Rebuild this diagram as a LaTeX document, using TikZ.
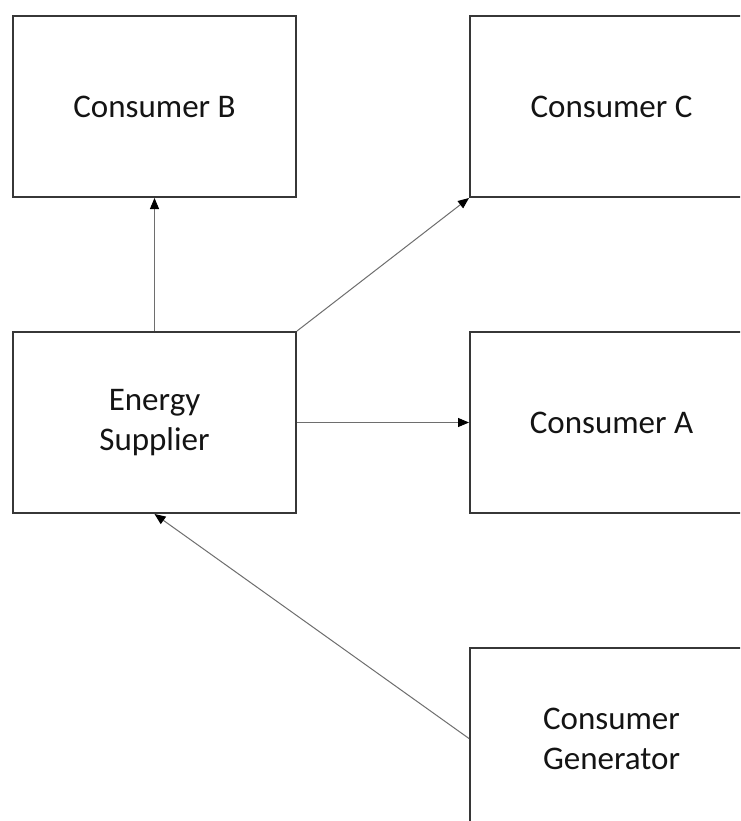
\documentclass[tikz,border=0pt]{standalone}
\usepackage{fontspec}
\setmainfont{Carlito}
\usetikzlibrary{arrows.meta}
\definecolor{boxline}{RGB}{55,55,55}
\definecolor{arrline}{RGB}{110,110,110}
\definecolor{txt}{RGB}{20,20,20}
\begin{document}
\begin{tikzpicture}[x=1pt,y=-1pt,
  box/.style={draw=boxline,line width=2pt,fill=white,anchor=north west,
    minimum width=283pt,minimum height=181pt,inner sep=0pt,text=txt,
    align=center,font=\fontsize{33}{40}\selectfont},
  conn/.style={draw=arrline,line width=1pt,-{Triangle[length=11pt,width=9pt,fill=black,color=black]}}]
\useasboundingbox (0,0) rectangle (740,821);
\clip (0,0) rectangle (740,821);
\fill[white] (0,0) rectangle (740,821);
\node[box] (cb) at (12,15) {Consumer B};
\node[box] (cc) at (469,15) {Consumer C};
\node[box] (es) at (12,331) {Energy\\Supplier};
\node[box] (ca) at (469,331) {Consumer A};
\node[box] (cg) at (469,647) {Consumer\\Generator};
\draw[conn] (es.north) -- (cb.south);
\draw[conn] (es.north east) -- (cc.south west);
\draw[conn] (es.east) -- (ca.west);
\draw[conn] (cg.west) -- (es.south);
\end{tikzpicture}
\end{document}
